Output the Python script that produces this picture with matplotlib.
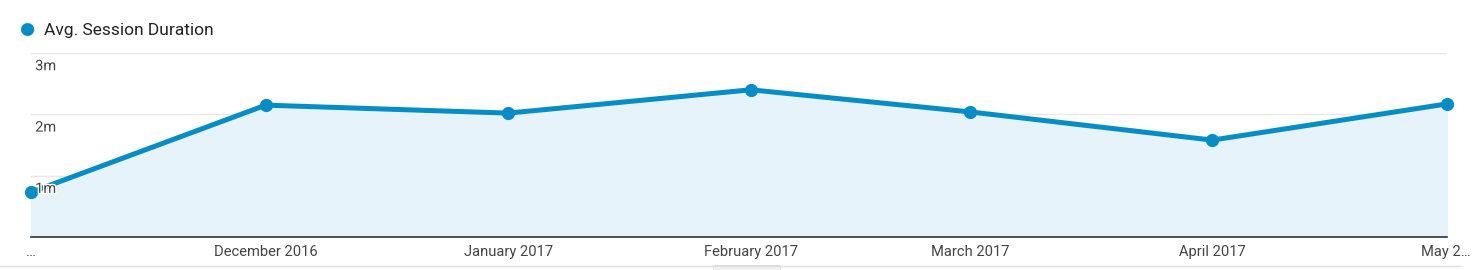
import matplotlib.pyplot as plt
import matplotlib.patheffects as pe
from matplotlib.transforms import ScaledTranslation
from datetime import date

plt.rcParams['font.family'] = ['Roboto', 'DejaVu Sans']

months = [date(2016, 11, 1), date(2016, 12, 1), date(2017, 1, 1), date(2017, 2, 1),
          date(2017, 3, 1), date(2017, 4, 1), date(2017, 5, 1)]
# avg session duration, minutes
duration = [0.73, 2.15, 2.02, 2.40, 2.04, 1.58, 2.17]
tick_labels = ['…', 'December 2016', 'January 2017', 'February 2017',
               'March 2017', 'April 2017', 'May 2…']
y_ticks = [1, 2, 3]
y_labels = ['1m', '2m', '3m']

blue = '#058DC7'
fig = plt.figure(figsize=(14.74, 2.70), dpi=100)
ax = fig.add_axes([31 / 1474, 1 - 237 / 270, (1447 - 31) / 1474, (237 - 53) / 270])

ax.fill_between(months, duration, 0, color='#E6F3FA', zorder=1)
ax.plot(months, duration, color=blue, lw=3.6, marker='o', ms=8.5, clip_on=False, zorder=3)

ax.set_xlim(months[0], months[-1])
ax.set_ylim(0, 3)
for y in y_ticks:
    ax.axhline(y, color='#E8E8E8', lw=1, zorder=0)
for y, lab in zip(y_ticks, y_labels):
    ax.annotate(lab, xy=(0, y), xycoords=('axes fraction', 'data'), xytext=(3, -4.5),
                textcoords='offset points', ha='left', va='top', fontsize=10.5,
                color='#444444', zorder=4,
                path_effects=[pe.withStroke(linewidth=2, foreground='white')])

ax.set_yticks([])
ax.set_xticks(months)
ax.set_xticklabels(tick_labels, fontsize=10.6, color='#444444')
ax.tick_params(axis='x', length=0, pad=6)
labels = ax.get_xticklabels()
labels[-1].set_ha('right')
labels[-1].set_transform(labels[-1].get_transform() + ScaledTranslation(0.24, 0, fig.dpi_scale_trans))

for s in ['top', 'left', 'right']:
    ax.spines[s].set_visible(False)
ax.spines['bottom'].set_color('#333333')
ax.spines['bottom'].set_linewidth(1.2)

# legend
fig.text(19 / 1474, 1 - 30 / 270, '●', color=blue, fontsize=12.5, va='center', ha='left')
fig.text(44 / 1474, 1 - 30 / 270, 'Avg. Session Duration', color='#222222', fontsize=12.5,
         va='center', ha='left')

# bottom scroll bar line
fig.add_artist(plt.Line2D([0, 1460 / 1474], [1 - 266 / 270] * 2, color='#DDDDDD', lw=1,
                          transform=fig.transFigure))
fig.add_artist(plt.Rectangle((713 / 1474, 0), 67 / 1474, 5 / 270, facecolor='#F2F2F2',
                             edgecolor='#DDDDDD', lw=0.8, transform=fig.transFigure))

fig.savefig('out.png', dpi=100)
